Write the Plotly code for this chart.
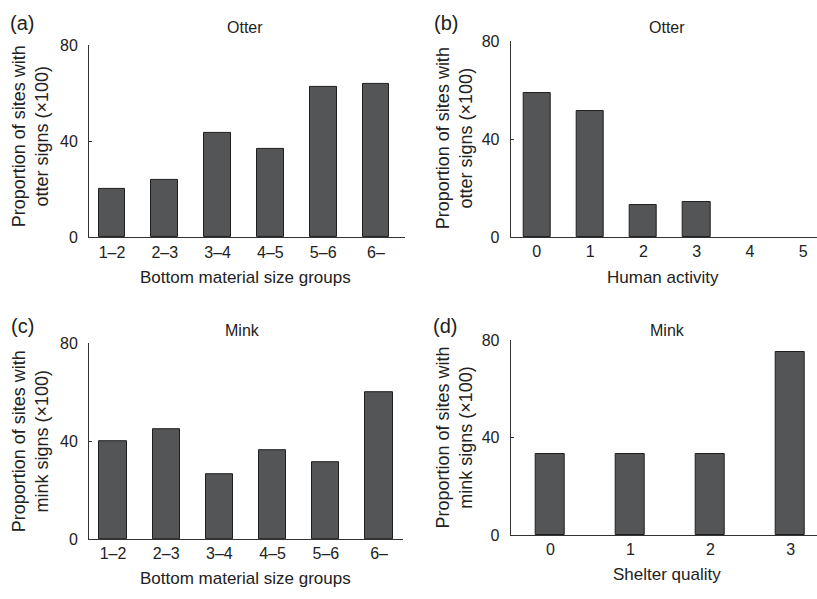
import plotly.graph_objects as go

W, H = 817, 599

# Data
size_groups = ["1–2", "2–3", "3–4", "4–5", "5–6", "6–"]
otter_by_size = [20.3, 23.8, 43.6, 36.6, 62.6, 63.6]
human_activity = ["0", "1", "2", "3", "4", "5"]
otter_by_activity = [58.9, 51.5, 13.1, 14.4, 0, 0]
mink_by_size = [40.0, 44.7, 26.7, 36.5, 31.5, 59.8]
shelter_quality = ["0", "1", "2", "3"]
mink_by_shelter = [33.3, 33.3, 33.3, 75.0]
y_ticks = [0, 40, 80]

BAR_FILL = "#545557"
BAR_EDGE = "#1e1e1e"
INK = "#222222"
FONT = "Liberation Sans, Arial, sans-serif"


def px_x(p):
    return p / W


def px_y(p):
    return 1 - p / H


# panel geometry in pixels: (x0, x1, ytop, ybottom, xrange, bar width)
panels = [
    dict(cats=size_groups, vals=otter_by_size, x0=89, x1=405, yt=38, yb=236,
         xr=[-0.436, 5.55], bw=0.51),
    dict(cats=human_activity, vals=otter_by_activity, x0=510.7, x1=817, yt=34, yb=235.7,
         xr=[-0.49, 5.257], bw=0.51),
    dict(cats=size_groups, vals=mink_by_size, x0=89, x1=403, yt=345, yb=546.7,
         xr=[-0.451, 5.45], bw=0.51),
    dict(cats=shelter_quality, vals=mink_by_shelter, x0=510.7, x1=817, yt=341.7, yb=542.7,
         xr=[-0.4975, 3.33], bw=0.36),
]

fig = go.Figure()
layout = dict(
    width=W, height=H,
    margin=dict(l=0, r=0, t=0, b=0),
    paper_bgcolor="white", plot_bgcolor="white",
    showlegend=False,
    font=dict(family=FONT, color=INK, size=16),
    bargap=0,
)

for i, p in enumerate(panels, start=1):
    xa = "x" if i == 1 else f"x{i}"
    ya = "y" if i == 1 else f"y{i}"
    # empty bars get no outline so nothing is drawn for them
    edge_w = [1 if v > 0 else 0 for v in p["vals"]]
    fig.add_trace(go.Bar(
        x=p["cats"], y=p["vals"], width=p["bw"],
        marker=dict(color=BAR_FILL, line=dict(color=BAR_EDGE, width=edge_w)),
        xaxis=xa, yaxis=ya, hoverinfo="x+y",
    ))
    xkey = "xaxis" if i == 1 else f"xaxis{i}"
    ykey = "yaxis" if i == 1 else f"yaxis{i}"
    layout[xkey] = dict(
        domain=[px_x(p["x0"]), min(1.0, px_x(p["x1"]))],
        anchor=ya, type="category", range=p["xr"],
        showline=True, linecolor="#333333", linewidth=1,
        ticks="", showgrid=False, zeroline=False,
        tickfont=dict(size=16, color=INK), ticklabelstandoff=0,
    )
    layout[ykey] = dict(
        domain=[px_y(p["yb"]), px_y(p["yt"])],
        anchor=xa, range=[0, 80], tickvals=y_ticks,
        showline=True, linecolor="#333333", linewidth=1,
        ticks="inside", ticklen=3, tickcolor="#333333",
        showgrid=False, zeroline=False,
        tickfont=dict(size=16, color=INK), ticklabelstandoff=7,
    )

fig.update_layout(**layout)

# text placed in pixel positions
texts = [
    # panel letters
    ("(a)", 22, 15, 20, 0), ("(b)", 446, 15, 20, 0),
    ("(c)", 22, 327, 20, 0), ("(d)", 445, 327, 20, 0),
    # panel titles
    ("Otter", 245, 20, 16, 0), ("Otter", 667, 20, 16, 0),
    ("Mink", 242, 332, 16, 0), ("Mink", 667, 332, 16, 0),
    # x axis titles
    ("Bottom material size groups", 245, 277, 17, 0),
    ("Human activity", 663, 277, 17, 0),
    ("Bottom material size groups", 245, 587, 17, 0),
    ("Shelter quality", 667, 583, 17, 0),
    # y axis titles
    ("Proportion of sites with<br>otter signs (×100)", 30, 132, 18, -90),
    ("Proportion of sites with<br>otter signs (×100)", 454, 134, 18, -90),
    ("Proportion of sites with<br>mink signs (×100)", 30, 446, 18, -90),
    ("Proportion of sites with<br>mink signs (×100)", 454, 442, 18, -90),
]
for t, x, y, s, ang in texts:
    fig.add_annotation(
        text=t, x=px_x(x), y=px_y(y), xref="paper", yref="paper",
        xanchor="center", yanchor="middle", showarrow=False,
        textangle=ang, font=dict(size=s, color=INK, family=FONT),
    )

fig.write_html("out.html")
